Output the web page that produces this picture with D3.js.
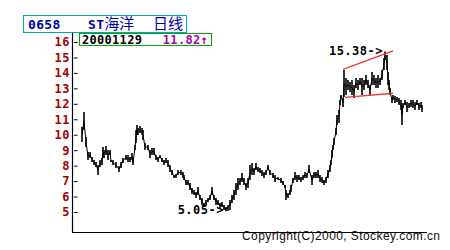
<!DOCTYPE html>
<html>
<head>
<meta charset="utf-8">
<script src="https://cdn.jsdelivr.net/npm/d3@7"></script>
<style>
  body { margin: 0; background: #fff; }
  svg { display: block; }
  .mono { font-family: "DejaVu Sans Mono", "Liberation Mono", monospace; font-weight: bold; }
</style>
</head>
<body>
<svg id="chart" width="450" height="250"></svg>
<script>
// trading day offset, daily high and low
const days = [0,2,4,6,8,10,12,14,16,18,20,21,22,24,26,28,29,31,34,37,39,41,44,46,48,50,51,53,54,55,56,58,60,61,63,66,68,70,72,74,76,78,80,82,84,86,88,90,92,94,96,99,101,102,104,106,108,110,112,114,116,118,120,122,124,126,128,130,132,134,136,138,140,142,144,146,148,150,152,154,156,158,160,162,164,166,168,170,172,174,176,178,180,182,184,186,188,191,193,196,199,201,203,204,206,208,209,211,213,215,217,219,221,223,225,227,230,232,234,236,238,240,242,244,246,248,249,250,251,252,254,255,257,258,259,261,262,264,266,268,270,272,274,276,278,280,282,284,286,288,290,292,294,296,298,300,302,303,305,306,307,308,310,311,313,315,317,319,320,321,323,325,327,329,331,333,335,337,339,340];
const highs = [10.50,11.47,9.85,8.88,8.88,8.56,8.36,8.23,8.04,8.36,8.49,9.20,9.01,9.27,9.01,9.01,8.36,8.36,8.23,7.97,8.23,8.49,8.69,8.69,8.56,8.82,8.36,9.33,10.30,10.63,10.43,10.56,10.43,10.30,9.46,9.33,9.01,9.14,9.14,8.69,8.56,8.69,8.49,8.36,8.49,8.36,8.04,7.72,7.39,7.46,7.72,7.72,7.59,7.39,7.07,7.07,6.87,6.55,6.42,6.29,6.61,6.10,5.90,5.58,5.77,5.90,6.10,6.61,6.10,5.90,5.77,5.58,5.64,5.45,5.32,5.45,5.77,6.10,6.42,6.87,7.20,7.20,7.52,7.20,6.87,7.20,8.04,8.17,7.84,8.17,7.91,7.84,7.72,7.59,7.72,8.04,7.72,7.52,7.39,7.26,7.20,7.00,6.74,6.42,6.23,6.42,6.74,7.20,7.59,7.39,7.39,7.26,7.39,7.59,7.52,8.04,7.39,7.59,7.59,7.72,7.39,7.26,7.07,7.26,7.72,8.04,8.36,9.01,9.33,9.79,10.43,11.28,11.60,12.25,12.57,12.38,14.19,13.67,13.54,13.41,13.54,13.22,13.67,13.54,13.67,13.67,13.54,13.86,13.54,13.22,14.06,13.86,13.67,13.86,13.67,14.19,14.96,15.38,15.16,14.06,13.54,13.02,12.44,12.57,12.51,12.44,12.38,12.25,11.92,12.05,12.25,12.12,12.05,12.25,12.25,12.12,12.25,12.05,12.12,11.92];
const lows = [9.53,10.30,9.20,8.36,8.49,8.23,8.04,7.91,7.39,7.91,8.04,8.49,8.49,8.69,8.36,8.69,8.23,8.04,7.84,7.59,7.84,8.17,8.36,8.23,8.23,8.36,8.04,9.01,9.46,9.98,9.98,10.11,9.98,9.66,9.01,9.01,8.49,8.69,8.69,8.36,8.23,8.49,8.23,8.04,8.17,7.91,7.59,7.39,7.20,7.20,7.39,7.39,7.20,7.07,6.74,6.74,6.42,6.16,6.10,5.90,6.10,5.77,5.45,5.32,5.45,5.64,5.77,6.10,5.77,5.45,5.45,5.26,5.32,5.13,5.05,5.06,5.13,5.58,5.77,6.10,6.42,6.74,6.94,6.74,6.42,6.55,7.07,7.39,7.39,7.72,7.59,7.52,7.33,7.20,7.39,7.72,7.39,7.20,6.94,7.07,6.87,6.74,6.55,5.77,5.90,6.10,6.29,6.87,7.07,6.94,7.07,6.94,7.07,7.20,7.20,7.52,6.74,7.20,7.20,7.20,6.94,6.87,6.74,6.87,7.20,7.59,8.04,8.49,9.01,9.33,9.98,10.63,10.76,11.92,12.38,11.79,12.44,12.57,12.89,12.76,12.57,12.38,13.02,12.89,13.22,12.57,12.89,13.22,13.02,12.57,13.22,13.22,13.02,13.02,13.22,13.54,14.19,14.83,14.19,13.22,12.89,12.57,12.05,12.25,12.05,12.12,11.92,11.60,10.63,11.73,11.92,11.47,11.73,11.79,11.73,11.60,11.92,11.60,11.73,11.47];
const yTicks = [5,6,7,8,9,10,11,12,13,14,15,16];
// channel lines: [day, price]
const upperLine = [[261, 14.23], [311, 15.42]];
const lowerLine = [[263, 12.42], [311, 12.68]];
const maxNote = { day: 303, price: 15.38, text: "15.38->" };
const minNote = { day: 144, price: 5.05, text: "5.05->" };

const svg = d3.select('#chart');

let x = d3.scaleLinear().domain([0, 340]).range([82, 422]);
let y = d3.scaleLinear().domain([5, 16]).range([212, 42]);

// axis frame
svg.append('line')
  .attr('x1', 72.5).attr('x2', 72.5).attr('y1', 33).attr('y2', 233)
  .attr('stroke', '#000').attr('stroke-width', 1.2);
svg.append('line')
  .attr('x1', 72).attr('x2', 427).attr('y1', 232.5).attr('y2', 232.5)
  .attr('stroke', '#000').attr('stroke-width', 1.2);

let yAxis = svg.append('g')
  .attr('transform', 'translate(74,0)')
  .call(d3.axisLeft(y).tickValues(yTicks).tickSizeInner(-3.5).tickSizeOuter(0).tickPadding(4).tickFormat(d3.format('d')));
yAxis.select('.domain').remove();
yAxis.selectAll('line').attr('stroke', '#000');
yAxis.selectAll('text')
  .attr('class', 'mono')
  .attr('fill', '#a80000')
  .style('font-size', '12px')
  .style('letter-spacing', '0.5px');

// price bars
let data = days.map((d, i) => ({ day: d, hi: highs[i], lo: lows[i] }));

svg.append('path')
  .datum(data)
  .attr('fill', 'none')
  .attr('stroke', '#000')
  .attr('stroke-width', 1)
  .attr('d', d3.line().x(d => x(d.day)).y(d => y((d.hi + d.lo) / 2)));

svg.selectAll('.bar')
  .data(data)
  .enter()
  .append('line')
  .attr('class', 'bar')
  .attr('x1', d => x(d.day)).attr('x2', d => x(d.day))
  .attr('y1', d => y(d.hi)).attr('y2', d => y(d.lo))
  .attr('stroke', '#000')
  .attr('stroke-width', 1.6);

// channel
[upperLine, lowerLine].forEach(l => {
  svg.append('line')
    .attr('x1', x(l[0][0])).attr('y1', y(l[0][1]))
    .attr('x2', x(l[1][0])).attr('y2', y(l[1][1]))
    .attr('stroke', '#f03838')
    .attr('stroke-width', 1.4);
});

// max / min notes
[maxNote, minNote].forEach(n => {
  svg.append('text')
    .attr('class', 'mono')
    .attr('x', x(n.day) - 2)
    .attr('y', y(n.price) + 3)
    .attr('text-anchor', 'end')
    .style('font-size', '12px')
    .style('letter-spacing', '0.5px')
    .attr('fill', '#000')
    .text(n.text);
});

// title boxes
svg.append('rect')
  .attr('x', 23.5).attr('y', 15.5).attr('width', 163).attr('height', 17)
  .attr('fill', '#fff').attr('stroke', '#00a8a8');
let title = svg.append('text').attr('y', 29).attr('fill', '#0000a8');
title.append('tspan').attr('x', 28).attr('class', 'mono')
  .style('font-size', '13px').style('letter-spacing', '0.3px').text('0658');
title.append('tspan').attr('x', 88).attr('class', 'mono')
  .style('font-size', '13px').style('letter-spacing', '0.3px').text('ST');
title.append('tspan')
  .style('font-family', '"Noto Sans CJK SC"').style('font-size', '15px').text('海洋');
title.append('tspan').attr('x', 153)
  .style('font-family', '"Noto Sans CJK SC"').style('font-size', '15px').text('日线');

svg.append('rect')
  .attr('x', 79.5).attr('y', 33.5).attr('width', 132).attr('height', 12)
  .attr('fill', '#fff').attr('stroke', '#00a800');
svg.append('text')
  .attr('class', 'mono').attr('x', 82).attr('y', 44)
  .style('font-size', '12px').style('letter-spacing', '0.3px')
  .attr('fill', '#000').text('20001129');
svg.append('text')
  .attr('class', 'mono').attr('x', 208).attr('y', 44)
  .attr('text-anchor', 'end')
  .style('font-size', '12px').style('letter-spacing', '0.3px')
  .attr('fill', '#a800a8').text('11.82↑');

// footer
svg.append('text')
  .attr('x', 242).attr('y', 240)
  .attr('textLength', 198)
  .style('font-family', '"Liberation Sans", Arial, sans-serif')
  .style('font-size', '12px')
  .attr('fill', '#101010')
  .text('Copyright(C)2000, Stockey.com.cn');
</script>
</body>
</html>
